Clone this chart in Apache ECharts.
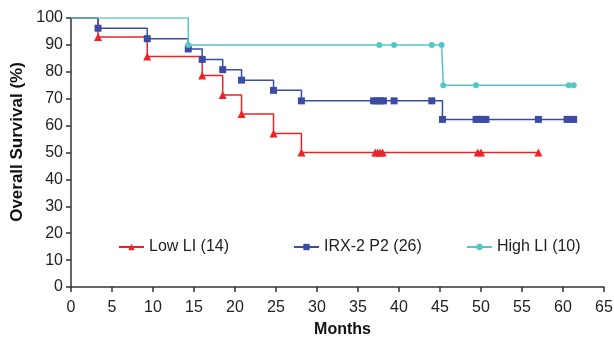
<!DOCTYPE html>
<html><head><meta charset="utf-8">
<script src="https://cdn.jsdelivr.net/npm/echarts@6/dist/echarts.min.js"></script>
<style>html,body{margin:0;padding:0;background:#fff}#c{width:614px;height:338px}</style>
</head><body><div id="c"></div>
<script>
// Months / survival (%) for each group (step points: drops and censor marks)
var lowMonths  = [0, 3.3, 9.3, 16.0, 18.5, 20.8, 24.7, 28.1, 37.1, 37.4, 37.7, 38.0, 49.6, 50.0, 57.0];
var lowSurv    = [100, 92.9, 85.7, 78.6, 71.4, 64.3, 57.1, 50.0, 50, 50, 50, 50, 50, 50, 50];
var irxMonths  = [0, 3.3, 9.3, 14.3, 16.0, 18.5, 20.8, 24.7, 28.1, 36.9, 37.3, 37.7, 38.1, 39.4, 44.0, 45.3, 49.4, 49.8, 50.2, 50.6, 57.0, 60.5, 60.9, 61.3];
var irxSurv    = [100, 96.2, 92.3, 88.5, 84.6, 80.8, 76.9, 73.1, 69.2, 69.2, 69.2, 69.2, 69.2, 69.2, 69.2, 62.3, 62.3, 62.3, 62.3, 62.3, 62.3, 62.3, 62.3, 62.3];
var highMonths = [0, 14.3, 37.6, 39.4, 44.0, 45.2, 45.4, 49.4, 60.7, 61.3];
var highSurv   = [100, 90, 90, 90, 90, 90, 75, 75, 75, 75];
var seriesNames = ['Low LI (14)', 'IRX-2 P2 (26)', 'High LI (10)'];
var xTicks = [0, 65, 5];
var yTicks = [0, 100, 10];

function pts(m, s) {
  return m.map(function (x, i) {
    var p = {value: [x, s[i]]};
    if (i === 0) p.symbol = 'none';
    return p;
  });
}
var colors = ['#ec2227', '#3a4ca4', '#55c6c6'];
var font = 'Liberation Sans';
var txt = '#222';
function legendAt(left, name) {
  return {
    left: left, top: 234, itemWidth: 25, itemHeight: 8, itemGap: 0,
    textStyle: {fontFamily: font, fontSize: 16, color: txt},
    data: [name]
  };
}
var chart = echarts.init(document.getElementById('c'));
chart.setOption({
  animation: false,
  grid: {left: 71, right: 10, top: 18, bottom: 51, containLabel: false, outerBoundsMode: 'none'},
  legend: [legendAt(113, seriesNames[0]), legendAt(288, seriesNames[1]), legendAt(461, seriesNames[2])],
  xAxis: {
    type: 'value', min: xTicks[0], max: xTicks[1], interval: xTicks[2],
    name: 'Months', nameLocation: 'middle', nameGap: 35,
    nameTextStyle: {fontFamily: font, fontSize: 16, fontWeight: 'bold', color: '#111', padding: [0, 0, 0, 10]},
    axisLine: {lineStyle: {color: '#333', width: 1.5}},
    axisTick: {lineStyle: {color: '#333', width: 1.5}, length: 5},
    axisLabel: {fontFamily: font, fontSize: 16, color: txt, margin: 13},
    splitLine: {show: false}
  },
  yAxis: {
    type: 'value', min: yTicks[0], max: yTicks[1], interval: yTicks[2],
    name: 'Overall Survival (%)', nameLocation: 'middle', nameGap: 42,
    nameTextStyle: {fontFamily: font, fontSize: 17, fontWeight: 'bold', color: '#111', padding: [0, 0, 0, 21]},
    axisLine: {show: true, lineStyle: {color: '#333', width: 1.5}},
    axisTick: {show: true, lineStyle: {color: '#333', width: 1.5}, length: 5},
    axisLabel: {fontFamily: font, fontSize: 16, color: txt, margin: 8},
    splitLine: {show: false}
  },
  series: [
    {name: seriesNames[0], type: 'line', step: 'end', data: pts(lowMonths, lowSurv),
     symbol: 'triangle', symbolSize: 8, color: colors[0], lineStyle: {width: 1.5}, z: 1},
    {name: seriesNames[1], type: 'line', step: 'end', data: pts(irxMonths, irxSurv),
     symbol: 'rect', symbolSize: 7, color: colors[1], lineStyle: {width: 1.5}, z: 2},
    {name: seriesNames[2], type: 'line', step: 'end', data: pts(highMonths, highSurv),
     symbol: 'circle', symbolSize: 6, color: colors[2], lineStyle: {width: 1.5}, z: 3}
  ]
});
</script></body></html>
